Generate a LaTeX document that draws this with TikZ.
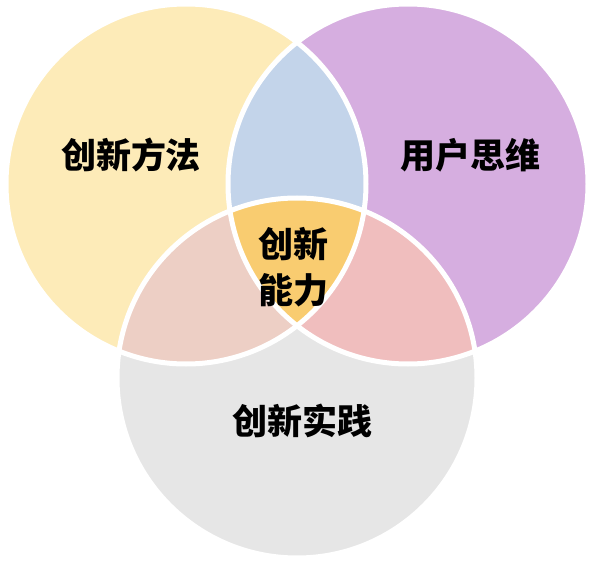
\documentclass[tikz,border=0pt]{standalone}
\usepackage{fontspec}
\newfontfamily\cjk{Noto Sans CJK SC}
\usetikzlibrary{positioning}
\definecolor{huang}{RGB}{253,235,184}
\definecolor{zi}{RGB}{214,174,224}
\definecolor{hui}{RGB}{230,230,230}
\definecolor{lan}{RGB}{195,212,234}
\definecolor{fen}{RGB}{237,207,197}
\definecolor{hong}{RGB}{240,190,190}
\definecolor{cheng}{RGB}{249,204,112}
\begin{document}
\begin{tikzpicture}[
    x=1pt, y=-1pt,
    quan/.style={draw=white, line width=5pt},
    biaoti/.style={font=\cjk\bfseries\fontsize{35}{46}\selectfont,
                   align=center, inner sep=0pt}
  ]
    \useasboundingbox (0,0) rectangle (595,567);
    \coordinate (zuo) at (186,184);
    \coordinate (you) at (408,184);
    \coordinate (xia) at (297,378);
    \def\banjing{180pt}
    % base circles
    \fill[huang] (zuo) circle (\banjing);
    \fill[zi] (you) circle (\banjing);
    \fill[hui] (xia) circle (\banjing);
    % overlaps
    \begin{scope}
      \clip (zuo) circle (\banjing);
      \fill[lan] (you) circle (\banjing);
      \fill[fen] (xia) circle (\banjing);
    \end{scope}
    \begin{scope}
      \clip (you) circle (\banjing);
      \fill[hong] (xia) circle (\banjing);
      \clip (xia) circle (\banjing);
      \fill[cheng] (zuo) circle (\banjing);
    \end{scope}
    % white rims
    \draw[quan] (zuo) circle (\banjing);
    \draw[quan] (you) circle (\banjing);
    \draw[quan] (xia) circle (\banjing);
    \node[biaoti] (fangfa) at (131,155) {创新方法};
    \node[biaoti] (siwei) at (470,155) {用户思维};
    \node[biaoti] (shijian) at (302,421) {创新实践};
    \node[biaoti] (nengli) at (293,267) {创新\\能力};
  \end{tikzpicture}
\end{document}
